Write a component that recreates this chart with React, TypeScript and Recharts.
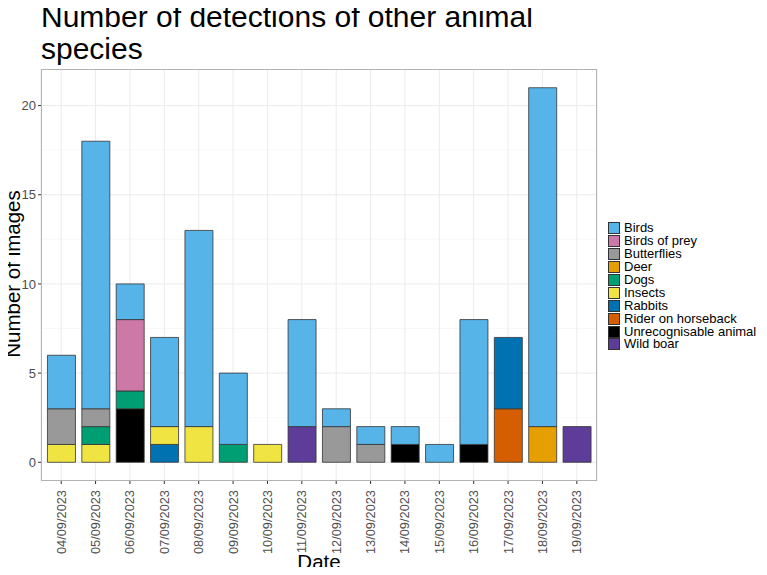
import { BarChart, Bar, XAxis, YAxis, CartesianGrid } from 'recharts';

const DATES = [
  '04/09/2023', '05/09/2023', '06/09/2023', '07/09/2023', '08/09/2023', '09/09/2023',
  '10/09/2023', '11/09/2023', '12/09/2023', '13/09/2023', '14/09/2023', '15/09/2023',
  '16/09/2023', '17/09/2023', '18/09/2023', '19/09/2023',
];

const BIRDS = [3, 15, 2, 5, 11, 4, 0, 6, 1, 1, 1, 1, 7, 0, 19, 0];
const BIRDS_OF_PREY = [0, 0, 4, 0, 0, 0, 0, 0, 0, 0, 0, 0, 0, 0, 0, 0];
const BUTTERFLIES = [2, 1, 0, 0, 0, 0, 0, 0, 2, 1, 0, 0, 0, 0, 0, 0];
const DEER = [0, 0, 0, 0, 0, 0, 0, 0, 0, 0, 0, 0, 0, 0, 2, 0];
const DOGS = [0, 1, 1, 0, 0, 1, 0, 0, 0, 0, 0, 0, 0, 0, 0, 0];
const INSECTS = [1, 1, 0, 1, 2, 0, 1, 0, 0, 0, 0, 0, 0, 0, 0, 0];
const RABBITS = [0, 0, 0, 1, 0, 0, 0, 0, 0, 0, 0, 0, 0, 4, 0, 0];
const RIDER = [0, 0, 0, 0, 0, 0, 0, 0, 0, 0, 0, 0, 0, 3, 0, 0];
const UNRECOGNISABLE = [0, 0, 3, 0, 0, 0, 0, 0, 0, 0, 1, 0, 1, 0, 0, 0];
const WILD_BOAR = [0, 0, 0, 0, 0, 0, 0, 2, 0, 0, 0, 0, 0, 0, 0, 2];

const Y_TICKS = [0, 5, 10, 15, 20];
const Y_MINOR = [2.5, 7.5, 12.5, 17.5];

// legend order (top to bottom); stacking is the reverse
const SPECIES = [
  { key: 'Birds', values: BIRDS, color: '#56B4E9' },
  { key: 'Birds of prey', values: BIRDS_OF_PREY, color: '#CC79A7' },
  { key: 'Butterflies', values: BUTTERFLIES, color: '#999999' },
  { key: 'Deer', values: DEER, color: '#E69F00' },
  { key: 'Dogs', values: DOGS, color: '#009E73' },
  { key: 'Insects', values: INSECTS, color: '#F0E442' },
  { key: 'Rabbits', values: RABBITS, color: '#0072B2' },
  { key: 'Rider on horseback', values: RIDER, color: '#D55E00' },
  { key: 'Unrecognisable animal', values: UNRECOGNISABLE, color: '#000000' },
  { key: 'Wild boar', values: WILD_BOAR, color: '#5E3C99' },
];

const data = DATES.map((date, i) => {
  const row: Record<string, string | number> = { date };
  SPECIES.forEach((s) => {
    row[s.key] = s.values[i];
  });
  return row;
});

const FONT = '"Liberation Sans", Arial, Helvetica, sans-serif';

function DateTick({ x, y, payload }: any) {
  return (
    <text
      x={x}
      y={y}
      transform={`rotate(-90, ${x}, ${y})`}
      dx={-4}
      dy={4.5}
      textAnchor="end"
      fontSize={12.8}
      fill="#4d4d4d"
      fontFamily={FONT}
    >
      {payload.value}
    </text>
  );
}

export default function App() {
  return (
    <div style={{ position: 'relative', width: 767, height: 575, margin: -8, background: '#fff', fontFamily: FONT }}>
      <div
        style={{
          position: 'absolute',
          left: 41,
          top: 1,
          width: 540,
          fontSize: 30,
          lineHeight: '32px',
          color: '#000',
        }}
      >
        Number of detections of other animal species
      </div>

      <BarChart
        width={767}
        height={575}
        data={data}
        margin={{ top: 69, right: 170, bottom: 0, left: 0 }}
        barCategoryGap="10%"
        style={{ position: 'absolute', left: 0, top: 0 }}
      >
        <CartesianGrid
          stroke="#f3f3f3"
          strokeWidth={0.6}
          vertical={false}
          horizontalValues={Y_MINOR}
        />
        <CartesianGrid stroke="#ebebeb" strokeWidth={1} horizontalValues={Y_TICKS} />
        <XAxis
          dataKey="date"
          interval={0}
          height={94}
          padding={{ left: 3, right: 3 }}
          axisLine={false}
          tickLine={{ stroke: '#333', strokeWidth: 1 }}
          tickSize={3}
          tick={<DateTick />}
        />
        <YAxis
          width={41}
          domain={[-1.05, 22.05]}
          ticks={Y_TICKS}
          allowDataOverflow
          axisLine={false}
          tickLine={{ stroke: '#333', strokeWidth: 1 }}
          tickSize={3}
          tick={{ fontSize: 13, fill: '#4d4d4d', fontFamily: FONT }}
        />
        {[...SPECIES].reverse().map((s) => (
          <Bar
            key={s.key}
            dataKey={s.key}
            stackId="a"
            fill={s.color}
            stroke="#333333"
            strokeWidth={0.8}
            isAnimationActive={false}
          />
        ))}
      </BarChart>

      <div
        style={{
          position: 'absolute',
          left: 41,
          top: 69,
          width: 556,
          height: 412,
          border: '1px solid #b3b3b3',
          boxSizing: 'border-box',
          pointerEvents: 'none',
        }}
      />

      {/* axis titles */}
      <div
        style={{
          position: 'absolute',
          left: 13,
          top: 274,
          transform: 'translate(-50%, -50%) rotate(-90deg)',
          fontSize: 20.5,
          lineHeight: '22px',
          whiteSpace: 'nowrap',
          color: '#000',
        }}
      >
        Number of images
      </div>
      <div
        style={{
          position: 'absolute',
          left: 319,
          top: 562,
          transform: 'translate(-50%, -50%)',
          fontSize: 20.5,
          lineHeight: '22px',
          whiteSpace: 'nowrap',
          color: '#000',
        }}
      >
        Date
      </div>

      <div style={{ position: 'absolute', left: 608, top: 222 }}>
        {SPECIES.map((s) => (
          <div key={s.key} style={{ display: 'flex', alignItems: 'center', height: 12.9 }}>
            <div
              style={{
                width: 12,
                height: 12,
                background: s.color,
                border: '0.8px solid #333',
                boxSizing: 'border-box',
                marginRight: 4,
              }}
            />
            <span style={{ fontSize: 13, lineHeight: '12px', color: '#000', whiteSpace: 'nowrap' }}>{s.key}</span>
          </div>
        ))}
      </div>
    </div>
  );
}
